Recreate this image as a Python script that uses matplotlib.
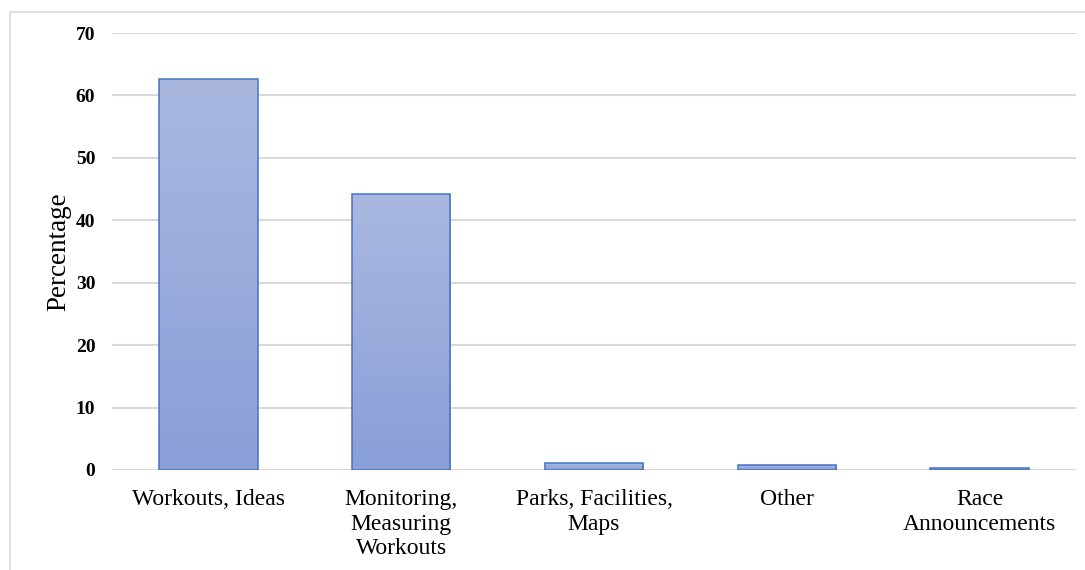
import numpy as np
import matplotlib.pyplot as plt
from matplotlib.colors import LinearSegmentedColormap
from matplotlib.patches import Rectangle

# share of respondents by what they use running apps for
categories = ['Workouts, Ideas', 'Monitoring,\nMeasuring\nWorkouts', 'Parks, Facilities,\nMaps', 'Other',
              'Race\nAnnouncements']
percentages = [62.7, 44.2, 1.1, 0.8, 0.25]
y_ticks = [0, 10, 20, 30, 40, 50, 60, 70]

plt.rcParams['font.family'] = ['Liberation Serif', 'DejaVu Serif']

fig = plt.figure(figsize=(10.85, 5.70), dpi=100)
ax = fig.add_axes([112 / 1085, 1 - 470 / 570, (1076 - 112) / 1085, (470 - 33) / 570])

# thin frame around the whole chart area
fig.patches.append(Rectangle((10 / 1085, -0.1), 1.2, 1 - 12 / 570 + 0.1, transform=fig.transFigure,
                             fill=False, edgecolor='#D9D9D9', linewidth=1.2))

x = np.arange(len(categories))
width = 0.51
bars = ax.bar(x, percentages, width=width, facecolor='none', edgecolor='#4472C4', linewidth=1.1, zorder=3)

# vertical gradient fill, lighter at the top of each bar
grad = LinearSegmentedColormap.from_list('barfill', ['#8A9FD8', '#AAB8E0'])
for rect in bars:
    x0, h = rect.get_x(), rect.get_height()
    img = ax.imshow(np.linspace(0, 1, 100).reshape(-1, 1), cmap=grad, origin='lower', aspect='auto',
                    extent=[x0, x0 + width, 0, h], zorder=2)
    img.set_clip_path(rect)

ax.set_xlim(-0.5, len(categories) - 0.5)
ax.set_ylim(0, 70)
ax.set_yticks(y_ticks)
ax.yaxis.grid(True, color='#D9D9D9', linewidth=1.5, zorder=0)
ax.set_axisbelow(True)
for s in ax.spines.values():
    s.set_visible(False)

ax.set_xticks(x)
ax.set_xticklabels(categories, fontsize=17, linespacing=1.2)
ax.tick_params(axis='x', length=0, pad=14)
ax.tick_params(axis='y', length=0, pad=12, labelsize=14)
for lbl in ax.get_yticklabels():
    lbl.set_fontweight('bold')

ax.set_ylabel('Percentage', fontsize=19.5, labelpad=3)

fig.savefig('out.png', dpi=100)
